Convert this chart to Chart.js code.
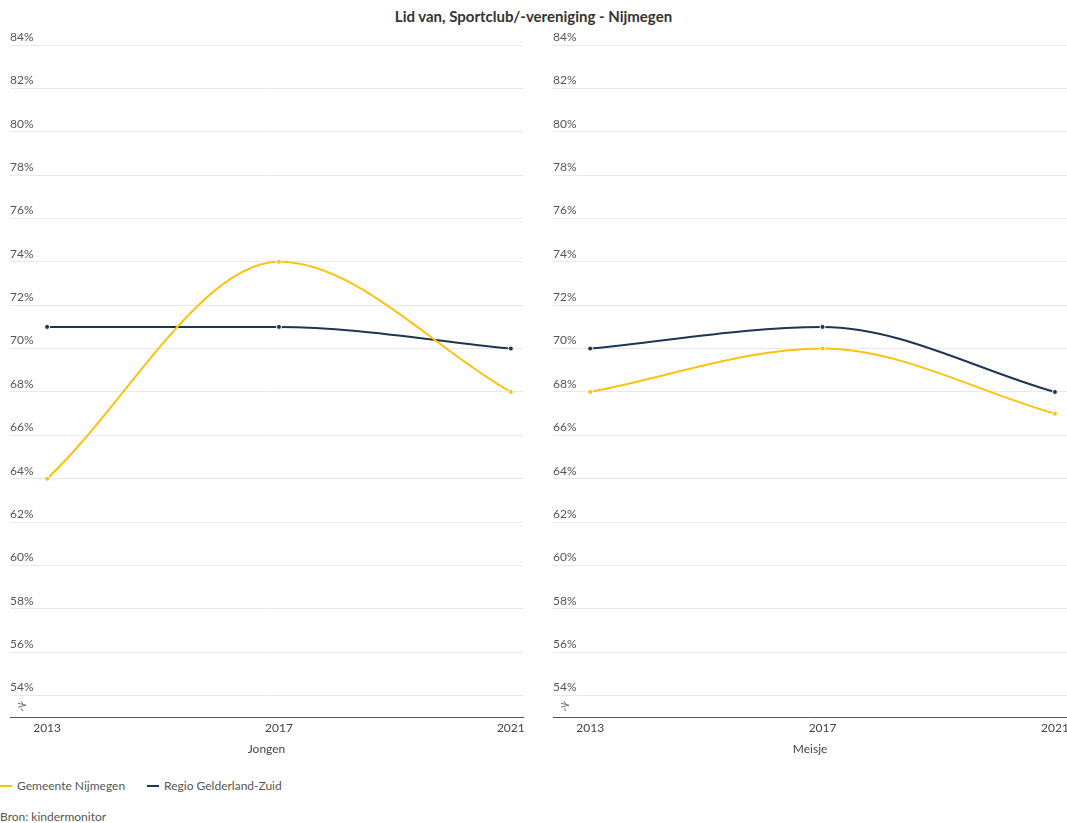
<!DOCTYPE html>
<html>
<head>
<meta charset="utf-8">
<script src="https://cdn.jsdelivr.net/npm/chart.js@4"></script>
<style>
  html, body { margin: 0; padding: 0; background: #fff; }
  body { width: 1067px; height: 823px; position: relative; overflow: hidden;
         font-family: Lato, "Open Sans", sans-serif; color: #444; }
  #title { position: absolute; top: 7px; left: 0; width: 1067px; text-align: center;
           font-size: 15px; font-weight: bold; color: #333; }
  .panel { position: absolute; top: 25px; height: 731px; }
  #left { left: 0; width: 533px; }
  #right { left: 543px; width: 530px; }
  #legend { position: absolute; top: 778px; left: 0; font-size: 12px; color: #555; display: flex; gap: 22px; }
  #legend span.item { display: flex; align-items: center; }
  #legend span.sw { display: inline-block; width: 12px; height: 2px; margin-right: 5px; }
  #source { position: absolute; top: 809px; left: 0; font-size: 12px; color: #555; }
</style>
</head>
<body>
<div id="title">Lid van, Sportclub/-vereniging - Nijmegen</div>
<div class="panel" id="left"><canvas id="c1"></canvas></div>
<div class="panel" id="right"><canvas id="c2"></canvas></div>
<div id="legend"></div>
<div id="source">Bron: kindermonitor</div>
<script>
// Survey years and panel names
const years = [2013, 2017, 2021];
const panels = ['Jongen', 'Meisje'];
const seriesNames = ['Gemeente Nijmegen', 'Regio Gelderland-Zuid'];
const seriesColors = ['#fcc20f', '#1c3553'];

// Percentages per panel
const jongenGemeente = [64, 74, 68];
const jongenRegio = [71, 71, 70];
const meisjeGemeente = [68, 70, 67];
const meisjeRegio = [70, 71, 68];

// Y tick labels (every 2%)
const yTicks = [54, 56, 58, 60, 62, 64, 66, 68, 70, 72, 74, 76, 78, 80, 82, 84];

const FONT = "Lato, 'Open Sans', sans-serif";

// Small zig-zag marking the broken y axis
const axisBreak = {
  id: 'axisBreak',
  afterDraw(chart) {
    const ctx = chart.ctx;
    const x = chart.chartArea.left + 12;
    const y = chart.chartArea.bottom - 11;
    ctx.save();
    ctx.strokeStyle = '#777';
    ctx.lineWidth = 1;
    ctx.beginPath();
    ctx.moveTo(x - 4, y - 3);
    ctx.lineTo(x + 4, y - 1);
    ctx.lineTo(x - 4, y + 1);
    ctx.moveTo(x - 1, y - 5);
    ctx.lineTo(x + 1, y - 2);
    ctx.moveTo(x - 1, y + 2);
    ctx.lineTo(x + 1, y + 5);
    ctx.stroke();
    ctx.restore();
  }
};

function makeDataset(label, values, color) {
  return {
    label,
    data: years.map((yr, i) => ({ x: yr, y: values[i] })),
    borderColor: color,
    backgroundColor: color,
    borderWidth: 2,
    pointRadius: 2.5,
    pointBorderColor: '#fff',
    pointBorderWidth: 1,
    pointBackgroundColor: color,
    cubicInterpolationMode: 'monotone',
    fill: false
  };
}

function makeChart(id, title, gemeente, regio, padLeft, padRight) {
  return new Chart(document.getElementById(id), {
    type: 'line',
    data: {
      datasets: [
        makeDataset(seriesNames[0], gemeente, seriesColors[0]),
        makeDataset(seriesNames[1], regio, seriesColors[1])
      ]
    },
    options: {
      responsive: true,
      maintainAspectRatio: false,
      animation: false,
      layout: { padding: { left: padLeft, right: padRight, top: 20, bottom: 0 } },
      plugins: { legend: { display: false }, tooltip: { enabled: false } },
      scales: {
        x: {
          type: 'linear',
          min: 2012.36,
          max: 2021.21,
          afterBuildTicks(axis) { axis.ticks = years.map(v => ({ value: v })); },
          grid: { display: false, drawTicks: false },
          border: { display: true, color: '#555', width: 1 },
          ticks: {
            color: '#444',
            font: { family: FONT, size: 12 },
            padding: 4,
            maxRotation: 0,
            autoSkip: false,
            callback: v => String(v)
          },
          title: { display: true, text: title, color: '#444', font: { family: FONT, size: 12 }, padding: { top: 2, bottom: 0 } }
        },
        y: {
          min: 53,
          max: 84,
          afterBuildTicks(axis) { axis.ticks = yTicks.map(v => ({ value: v })); },
          grid: { color: '#e9e9e9', drawTicks: false, lineWidth: 1 },
          border: { display: false },
          ticks: {
            mirror: true,
            padding: 0,
            labelOffset: -8,
            color: '#555',
            font: { family: FONT, size: 12 },
            callback: v => v + '%'
          }
        }
      }
    },
    plugins: [axisBreak]
  });
}

makeChart('c1', panels[0], jongenGemeente, jongenRegio, 10, 10);
makeChart('c2', panels[1], meisjeGemeente, meisjeRegio, 10, 1);

// Legend built from the series names and colours
const legend = document.getElementById('legend');
seriesNames.forEach((name, i) => {
  const item = document.createElement('span');
  item.className = 'item';
  const sw = document.createElement('span');
  sw.className = 'sw';
  sw.style.background = seriesColors[i];
  item.appendChild(sw);
  item.appendChild(document.createTextNode(name));
  legend.appendChild(item);
});
</script>
</body>
</html>
